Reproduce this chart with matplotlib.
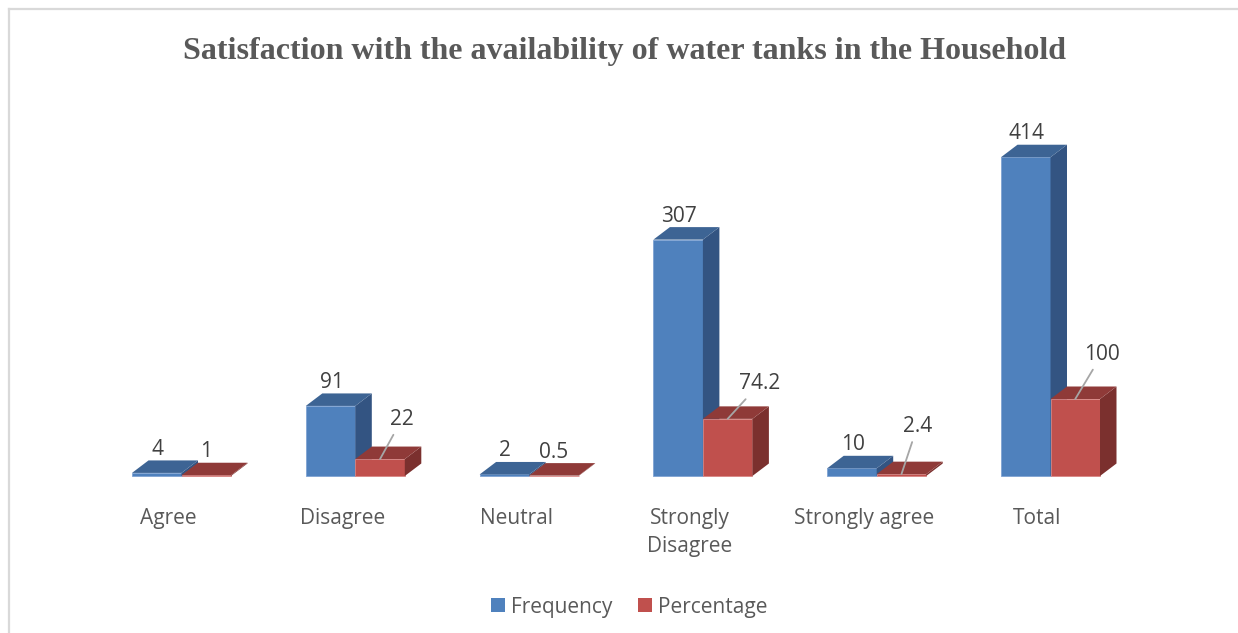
import matplotlib
matplotlib.use("Agg")
import matplotlib.pyplot as plt
from matplotlib.patches import Polygon, Patch
from matplotlib.lines import Line2D

categories = ["Agree", "Disagree", "Neutral", "Strongly\nDisagree", "Strongly agree", "Total"]
frequency = [4, 91, 2, 307, 10, 414]
percentage = [1, 22, 0.5, 74.2, 2.4, 100]
freq_labels = ["4", "91", "2", "307", "10", "414"]
pct_labels = ["1", "22", "0.5", "74.2", "2.4", "100"]
series_names = ["Frequency", "Percentage"]
title = "Satisfaction with the availability of water tanks in the Household"

# leader-line offsets (pixels) for percentage labels; None = plain label above bar
pct_leader = [None, (22, 40), None, (32, 35), (16, 48), (27, 45)]

W_PX, H_PX = 1238, 633
DPI = 100
fig = plt.figure(figsize=(W_PX / DPI, H_PX / DPI), dpi=DPI)
ax = fig.add_axes([0, 0, 1, 1])
ax.set_axis_off()

# pixel geometry
x0_px, step_px = 181.5, 173.8
base_px, k = 476.0, 0.77
ax.set_xlim(-x0_px / step_px, (W_PX - x0_px) / step_px)
ax.set_ylim((base_px - H_PX) / k, base_px / k)

W = 49.5 / step_px
DX = 16.5 / step_px
DY = 12.5 / k

blue = dict(front="#4F81BD", top="#3D6494", side="#335482", edge="#7FA3D3")
red = dict(front="#C0504D", top="#8F3A38", side="#7B302E", edge="#D98684")

def bar3d(x_left, v, c):
    ax.bar(x_left, v, width=W, align="edge", color=c["front"],
           edgecolor=c["edge"], linewidth=0.6, zorder=2)
    top = [(x_left, v), (x_left + W, v), (x_left + W + DX, v + DY), (x_left + DX, v + DY)]
    side = [(x_left + W, 0), (x_left + W + DX, DY), (x_left + W + DX, v + DY), (x_left + W, v)]
    ax.add_patch(Polygon(side, closed=True, facecolor=c["side"], edgecolor="none", zorder=2))
    ax.add_patch(Polygon(top, closed=True, facecolor=c["top"], edgecolor="none", zorder=2))

font = "Open Sans"
FS = 15
lab_color = "#404040"
cat_color = "#595959"

for i in range(len(categories)):
    bar3d(i - W, frequency[i], blue)
    bar3d(i, percentage[i], red)
    ax.annotate(freq_labels[i], xy=(i - W / 2, frequency[i] + DY), xytext=(1, 11),
                textcoords="offset pixels", ha="center", va="center",
                fontsize=FS, family=font, color=lab_color, zorder=5)
    if pct_leader[i] is None:
        ax.annotate(pct_labels[i], xy=(i + W / 2, percentage[i] + DY), xytext=(0, 11),
                    textcoords="offset pixels", ha="center", va="center",
                    fontsize=FS, family=font, color=lab_color, zorder=5)
    else:
        ax.annotate(pct_labels[i], xy=(i + W / 2, percentage[i]), xytext=pct_leader[i],
                    textcoords="offset pixels", ha="center", va="center",
                    fontsize=FS, family=font, color=lab_color, zorder=5,
                    arrowprops=dict(arrowstyle="-", color="#A6A6A6", lw=1.3,
                                    shrinkA=2, shrinkB=0))
    ax.text(i - 13 / step_px, (base_px - 508) / k, categories[i], ha="center", va="top",
            fontsize=FS, family=font, color=cat_color, linespacing=1.45)

fig.text(624 / W_PX, 1 - 59 / H_PX, title, ha="center", va="baseline",
         fontsize=23, fontweight="bold", family="Liberation Serif", color="#595959")

handles = [Patch(facecolor=blue["front"], edgecolor="none"),
           Patch(facecolor=red["front"], edgecolor="none")]
fig.legend(handles, series_names, loc="center", bbox_to_anchor=(629 / W_PX, 1 - 607 / H_PX),
           ncol=2, frameon=False, handlelength=0.68, handleheight=0.68,
           handletextpad=0.28, columnspacing=1.25,
           prop=dict(family=font, size=FS), labelcolor=cat_color)

# chart area border (top and left visible)
fig.add_artist(Line2D([9 / W_PX, 1237 / W_PX], [1 - 9 / H_PX, 1 - 9 / H_PX],
                      color="#D9D9D9", lw=1.6, transform=fig.transFigure))
fig.add_artist(Line2D([9 / W_PX, 9 / W_PX], [1 - 9 / H_PX, 0],
                      color="#D9D9D9", lw=1.6, transform=fig.transFigure))

fig.savefig("out.png", dpi=DPI)
